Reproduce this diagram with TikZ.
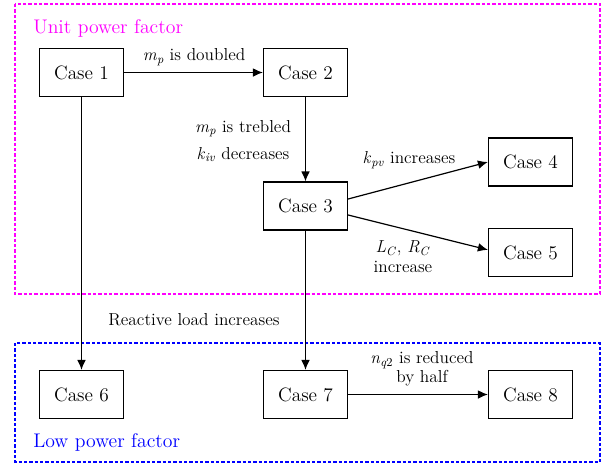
\documentclass[tikz,border=0pt]{standalone}
\usetikzlibrary{arrows.meta}
\definecolor{unitcol}{RGB}{255,0,255}
\definecolor{lowcol}{RGB}{0,0,255}
\newcommand{\sym}[2]{\textit{#1}\textsubscript{#2}}

\begin{document}
\begin{tikzpicture}[x=0.75pt, y=-0.75pt,
  casebox/.style={draw, line width=0.9pt, minimum width=63pt, minimum height=36pt, inner sep=0pt, font=\fontsize{14.5}{17}\selectfont},
  lbl/.style={font=\fontsize{13}{15}\selectfont, align=center, inner sep=1pt},
  flow/.style={-{Latex[length=7.5pt,width=6.5pt]}, line width=0.9pt},
  region/.style={line width=1.5pt, dash pattern=on 2.5pt off 1.5pt},
  grouptitle/.style={font=\fontsize{14.8}{17}\selectfont, anchor=west, inner sep=0pt}]
\useasboundingbox (0,0) rectangle (614,465);
% power factor regions
\draw[region, unitcol] (15,4) rectangle (600,294);
\draw[region, lowcol] (15,343) rectangle (600,462);
\node[grouptitle, text=unitcol] (unitpf) at (33,28) {Unit power factor};
\node[grouptitle, text=lowcol] (lowpf) at (33,442) {Low power factor};
%
\node[casebox] (c1) at (81.5,72.5) {Case 1};
\node[casebox] (c2) at (305.5,72.5) {Case 2};
\node[casebox] (c3) at (305.5,206) {Case 3};
\node[casebox] (c4) at (530.5,162) {Case 4};
\node[casebox] (c5) at (530.5,252.5) {Case 5};
\node[casebox] (c6) at (81.5,394.5) {Case 6};
\node[casebox] (c7) at (305.5,394.5) {Case 7};
\node[casebox] (c8) at (530.5,394.5) {Case 8};
%
\draw[flow] (c1) -- (c2);
\draw[flow] (c2) -- (c3);
\draw[flow] ([yshift=5.25pt]c3.east) -- (c4.west);
\draw[flow] ([yshift=-6.75pt]c3.east) -- ([yshift=2pt]c5.west);
\draw[flow] (c1) -- (c6);
\draw[flow] (c3) -- (c7);
\draw[flow] (c7) -- (c8);
%
\node[lbl] (l12) at (194,57) {\sym{m}{\textit{p}} is doubled};
\node[lbl, font=\fontsize{13}{20}\selectfont] (l23) at (243,141) {\sym{m}{\textit{p}} is trebled\\\sym{k}{\textit{iv}} decreases};
\node[lbl] (l34) at (409,160) {\sym{k}{\textit{pv}} increases};
\node[lbl, font=\fontsize{13}{15}\selectfont] (l35) at (403,257) {\sym{L}{\textit{C}}, \sym{R}{\textit{C}}\\increase};
\node[lbl] (lreact) at (194,320) {Reactive load increases};
\node[lbl, font=\fontsize{13}{14}\selectfont] (l78) at (422,369) {\sym{n}{\textit{q}2} is reduced\\by half};
\end{tikzpicture}
\end{document}
